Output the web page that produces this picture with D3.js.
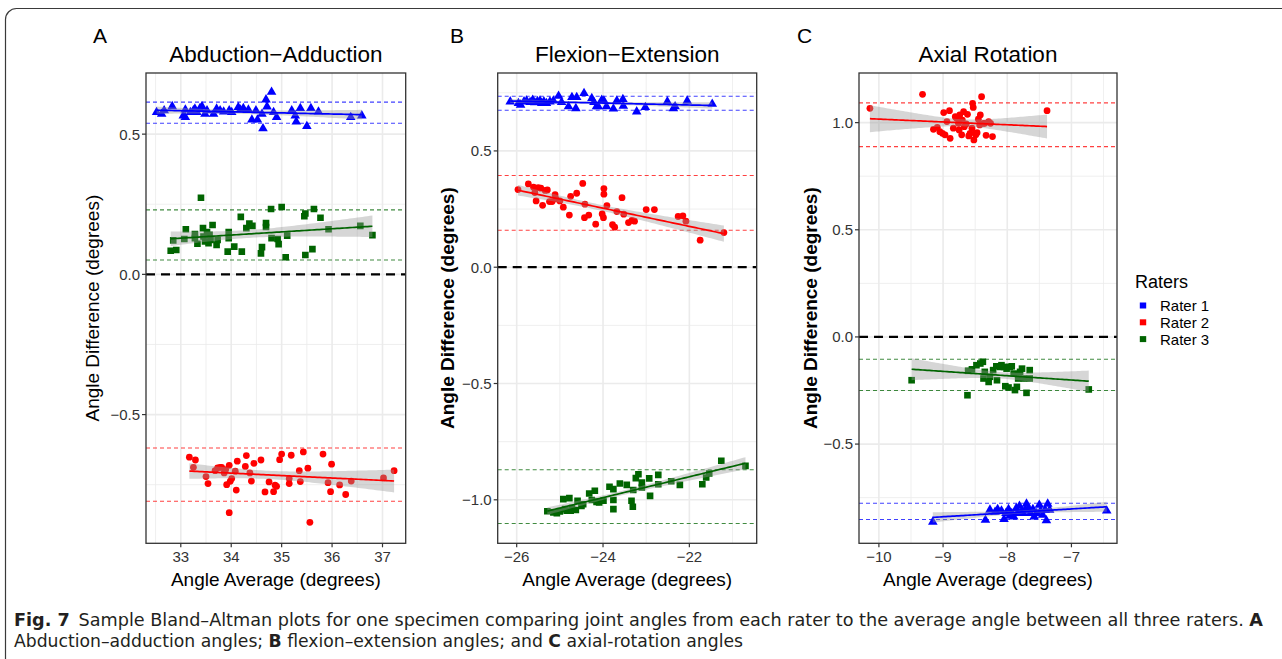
<!DOCTYPE html>
<html>
<head>
<meta charset="utf-8">
<script src="https://cdn.jsdelivr.net/npm/d3@7"></script>
<style>
  body { margin: 0; background: #fff; }
  svg { display: block; font-family: "Liberation Sans", Arial, sans-serif; }
</style>
</head>
<body>
<div id="chart"></div>
<script>
// ---- data ----
var raters = ["Rater 1", "Rater 2", "Rater 3"];

// A: abduction-adduction
var abdR1x = [32.52,32.62,32.67,32.83,33.05,33.09,33.09,33.19,33.25,33.28,33.32,33.38,33.42,33.48,33.52,33.65,33.71,33.78,33.85,33.96,34.01,34.14,34.18,34.24,34.34,34.41,34.49,34.52,34.61,34.63,34.69,34.71,34.80,34.84,34.90,35.20,35.27,35.29,35.37,35.50,35.58,35.73,36.37,36.59];
var abdR1y = [0.578,0.572,0.584,0.599,0.566,0.587,0.560,0.578,0.584,0.590,0.578,0.592,0.599,0.572,0.584,0.572,0.590,0.584,0.580,0.584,0.578,0.596,0.587,0.592,0.587,0.551,0.584,0.551,0.572,0.520,0.623,0.598,0.650,0.578,0.560,0.584,0.566,0.544,0.592,0.528,0.592,0.580,0.560,0.566];
var abdR2x = [33.17,33.25,33.29,33.50,33.54,33.68,33.73,33.78,33.81,33.86,33.89,33.91,33.96,33.96,33.98,34.01,34.08,34.10,34.12,34.28,34.30,34.37,34.40,34.45,34.59,34.67,34.75,34.84,34.87,34.90,34.96,35.00,35.15,35.15,35.19,35.35,35.37,35.43,35.52,35.56,35.82,35.92,35.97,35.99,36.15,36.27,36.38,37.02,37.23];
var abdR2y = [-0.652,-0.688,-0.662,-0.721,-0.746,-0.700,-0.690,-0.688,-0.688,-0.708,-0.696,-0.750,-0.681,-0.850,-0.738,-0.728,-0.702,-0.769,-0.666,-0.685,-0.646,-0.708,-0.737,-0.674,-0.662,-0.776,-0.740,-0.775,-0.752,-0.756,-0.661,-0.641,-0.728,-0.746,-0.645,-0.700,-0.739,-0.633,-0.691,-0.884,-0.641,-0.743,-0.775,-0.677,-0.751,-0.785,-0.737,-0.726,-0.700];
var abdR3x = [32.80,32.91,32.85,33.07,33.10,33.28,33.28,33.33,33.40,33.44,33.45,33.48,33.52,33.55,33.57,33.59,33.63,33.71,33.73,33.93,33.95,33.95,34.06,34.19,34.21,34.30,34.36,34.42,34.59,34.61,34.69,34.69,34.79,34.80,34.92,34.94,35.00,35.08,35.11,35.45,35.47,35.47,35.61,35.64,35.77,35.93,36.56,36.80];
var abdR3y = [0.084,0.087,0.121,0.126,0.161,0.144,0.129,0.109,0.273,0.165,0.135,0.117,0.151,0.111,0.141,0.123,0.176,0.105,0.123,0.081,0.151,0.129,0.099,0.205,0.081,0.165,0.181,0.173,0.075,0.097,0.183,0.169,0.233,0.129,0.126,0.108,0.240,0.061,0.138,0.207,0.069,0.217,0.090,0.233,0.202,0.161,0.173,0.140];
var abdLimits = [[0.539, 0.614], [-0.809, -0.619], [0.051, 0.230]];

// B: flexion-extension
var flxR1x = [-26.15,-25.96,-25.91,-25.83,-25.77,-25.69,-25.63,-25.58,-25.52,-25.46,-25.42,-25.37,-25.31,-25.23,-25.15,-25.03,-24.96,-24.80,-24.72,-24.63,-24.61,-24.44,-24.26,-24.21,-24.15,-24.11,-24.03,-23.98,-23.92,-23.76,-23.68,-23.54,-23.53,-23.22,-23.02,-22.51,-22.37,-22.33,-22.05,-21.47];
var flxR1y = [0.712,0.705,0.698,0.712,0.716,0.709,0.719,0.708,0.713,0.716,0.705,0.712,0.705,0.712,0.716,0.736,0.709,0.691,0.731,0.683,0.731,0.748,0.726,0.709,0.691,0.691,0.719,0.716,0.691,0.681,0.716,0.722,0.693,0.669,0.688,0.712,0.683,0.691,0.715,0.702];
var flxR2x = [-25.97,-25.73,-25.61,-25.58,-25.55,-25.50,-25.44,-25.40,-25.34,-25.29,-25.24,-25.18,-25.11,-25.09,-25.00,-24.92,-24.78,-24.75,-24.61,-24.47,-24.42,-24.43,-24.33,-24.17,-24.02,-23.99,-23.98,-23.98,-23.91,-23.78,-23.73,-23.68,-23.56,-23.52,-23.41,-23.33,-23.27,-23.00,-22.81,-22.26,-22.15,-22.08,-21.75,-21.20];
var flxR2y = [0.334,0.358,0.344,0.321,0.285,0.342,0.340,0.266,0.330,0.332,0.282,0.282,0.312,0.294,0.285,0.258,0.224,0.305,0.318,0.360,0.271,0.213,0.224,0.185,0.229,0.213,0.314,0.338,0.265,0.183,0.172,0.239,0.299,0.228,0.192,0.201,0.198,0.248,0.248,0.218,0.221,0.198,0.116,0.149];
var flxR3x = [-25.29,-25.15,-25.07,-25.00,-24.92,-24.88,-24.84,-24.78,-24.75,-24.72,-24.63,-24.59,-24.50,-24.46,-24.32,-24.26,-24.19,-24.15,-24.09,-23.99,-23.85,-23.76,-23.76,-23.76,-23.61,-23.45,-23.34,-23.31,-23.30,-23.24,-23.18,-23.10,-23.10,-22.93,-22.91,-22.72,-22.72,-22.42,-22.22,-21.70,-21.61,-21.54,-21.26,-20.70];
var flxR3y = [-1.049,-1.054,-1.057,-1.050,-0.997,-1.040,-1.047,-0.993,-1.047,-1.036,-1.044,-1.004,-1.026,-1.019,-0.973,-1.001,-0.961,-1.009,-1.011,-1.004,-0.944,-1.001,-1.040,-0.954,-0.930,-0.936,-1.004,-1.030,-0.958,-0.907,-0.890,-0.926,-0.947,-0.908,-0.983,-0.893,-0.933,-0.920,-0.936,-0.933,-0.904,-0.887,-0.832,-0.854];
var flxLimits = [[0.675, 0.735], [0.159, 0.394], [-1.102, -0.871]];

// C: axial rotation
var axR1x = [-9.16,-8.34,-8.27,-8.19,-8.15,-8.09,-8.05,-8.02,-7.98,-7.96,-7.93,-7.90,-7.86,-7.84,-7.81,-7.77,-7.75,-7.72,-7.70,-7.67,-7.64,-7.60,-7.58,-7.54,-7.50,-7.48,-7.45,-7.41,-7.39,-7.37,-7.34,-6.45];
var axR1y = [-0.863,-0.854,-0.807,-0.817,-0.804,-0.811,-0.851,-0.823,-0.804,-0.835,-0.823,-0.839,-0.800,-0.823,-0.789,-0.811,-0.823,-0.807,-0.779,-0.800,-0.823,-0.804,-0.839,-0.823,-0.784,-0.811,-0.831,-0.807,-0.857,-0.779,-0.807,-0.811];
var axR2x = [-10.14,-9.32,-9.15,-9.09,-9.05,-9.01,-8.99,-8.97,-8.94,-8.90,-8.89,-8.84,-8.81,-8.79,-8.76,-8.75,-8.74,-8.71,-8.70,-8.68,-8.67,-8.64,-8.62,-8.60,-8.58,-8.55,-8.54,-8.53,-8.52,-8.50,-8.49,-8.47,-8.45,-8.43,-8.42,-8.40,-8.37,-8.35,-8.33,-8.29,-8.26,-8.23,-7.38];
var axR2y = [1.067,1.132,0.969,0.978,0.958,0.950,1.047,0.943,1.005,1.056,0.927,0.974,1.028,1.020,0.997,0.966,1.036,0.943,1.012,1.051,0.981,0.994,1.039,0.938,0.950,0.974,1.090,1.071,0.919,0.950,0.943,0.953,1.016,0.989,1.036,1.121,0.997,0.997,0.941,1.005,0.997,0.935,1.056];
var axR3x = [-9.49,-8.62,-8.61,-8.55,-8.48,-8.42,-8.38,-8.37,-8.35,-8.29,-8.27,-8.22,-8.17,-8.16,-8.11,-8.09,-8.05,-8.03,-8.01,-7.98,-7.96,-7.93,-7.90,-7.88,-7.85,-7.83,-7.80,-7.77,-7.74,-7.70,-7.65,-7.65,-6.73];
var axR3y = [-0.202,-0.272,-0.158,-0.151,-0.132,-0.124,-0.116,-0.194,-0.163,-0.210,-0.186,-0.155,-0.137,-0.202,-0.140,-0.132,-0.140,-0.230,-0.148,-0.236,-0.140,-0.137,-0.171,-0.248,-0.233,-0.194,-0.163,-0.148,-0.194,-0.261,-0.194,-0.155,-0.245];
var axLimits = [[-0.852, -0.776], [0.888, 1.092], [-0.250, -0.104]];

var abdXTicks = [33, 34, 35, 36, 37], abdYTicks = [-0.5, 0.0, 0.5];
var flxXTicks = [-26, -24, -22], flxYTicks = [-1.0, -0.5, 0.0, 0.5];
var axXTicks = [-10, -9, -8, -7], axYTicks = [-0.5, 0.0, 0.5, 1.0];

var colors = ["#0000FF", "#FF0000", "#006400"];
var shapes = [d3.symbolTriangle, d3.symbolCircle, d3.symbolSquare];
var sizes = [40, 36, 44];

var width = 1282, height = 659;
var svg = d3.select("#chart").append("svg").attr("width", width).attr("height", height);

// rounded frame
svg.append("rect")
  .attr("x", 5.5).attr("y", 8.5)
  .attr("width", 1300).attr("height", 690)
  .attr("rx", 11)
  .attr("fill", "none").attr("stroke", "#3a3a3a").attr("stroke-width", 1.2);

var panels = [
  {letter: "A", letterX: 93, title: "Abduction\u2212Adduction", left: 146, right: 405.7,
   xDom: [32.31, 37.46], yDom: [-0.959, 0.718], xTicks: abdXTicks, yTicks: abdYTicks,
   xs: [abdR1x, abdR2x, abdR3x], ys: [abdR1y, abdR2y, abdR3y], limits: abdLimits, ylabX: 92, boldY: false},
  {letter: "B", letterX: 450, title: "Flexion\u2212Extension", left: 497.7, right: 756.7,
   xDom: [-26.44, -20.44], yDom: [-1.187, 0.835], xTicks: flxXTicks, yTicks: flxYTicks,
   xs: [flxR1x, flxR2x, flxR3x], ys: [flxR1y, flxR2y, flxR3y], limits: flxLimits, ylabX: 447, boldY: true},
  {letter: "C", letterX: 797, title: "Axial Rotation", left: 859, right: 1117,
   xDom: [-10.31, -6.29], yDom: [-0.963, 1.2316], xTicks: axXTicks, yTicks: axYTicks,
   xs: [axR1x, axR2x, axR3x], ys: [axR1y, axR2y, axR3y], limits: axLimits, ylabX: 810, boldY: true}
];

var plotTop = 73, plotBottom = 543.3;

function minors(ticks, dom) {
  var step = ticks[1] - ticks[0], out = [];
  for (var v = ticks[0] - step / 2; v <= dom[1]; v += step) {
    if (v >= dom[0]) out.push(v);
  }
  return out;
}

function linFit(xs, ys) {
  var n = xs.length;
  var mx = d3.mean(xs), my = d3.mean(ys);
  var sxx = 0, sxy = 0;
  for (var i = 0; i < n; i++) {
    sxx += (xs[i] - mx) * (xs[i] - mx);
    sxy += (xs[i] - mx) * (ys[i] - my);
  }
  var b = sxy / sxx, a = my - b * mx;
  var sse = 0;
  for (var j = 0; j < n; j++) {
    var r = ys[j] - (a + b * xs[j]);
    sse += r * r;
  }
  var s = Math.sqrt(sse / (n - 2));
  var t = 2.01;
  var lo = d3.min(xs), hi = d3.max(xs);
  return d3.range(0, 81).map(function (k) {
    var x = lo + (hi - lo) * k / 80;
    var fit = a + b * x;
    var se = s * Math.sqrt(1 / n + (x - mx) * (x - mx) / sxx);
    return {x: x, y: fit, lo: fit - t * se, hi: fit + t * se};
  });
}

panels.forEach(function (p) {
  var x = d3.scaleLinear().domain(p.xDom).range([p.left, p.right]);
  var y = d3.scaleLinear().domain(p.yDom).range([plotBottom, plotTop]);
  var g = svg.append("g");

  var clip = "clip" + p.letter;
  svg.append("clipPath").attr("id", clip).append("rect")
    .attr("x", p.left).attr("y", plotTop).attr("width", p.right - p.left).attr("height", plotBottom - plotTop);

  // grid
  g.selectAll(".vminor").data(minors(p.xTicks, p.xDom)).enter().append("line")
    .attr("x1", function (d) { return x(d); }).attr("x2", function (d) { return x(d); })
    .attr("y1", plotTop).attr("y2", plotBottom).attr("stroke", "#EBEBEB").attr("stroke-width", 0.8);
  g.selectAll(".hminor").data(minors(p.yTicks, p.yDom)).enter().append("line")
    .attr("y1", function (d) { return y(d); }).attr("y2", function (d) { return y(d); })
    .attr("x1", p.left).attr("x2", p.right).attr("stroke", "#EBEBEB").attr("stroke-width", 0.8);
  g.selectAll(".vmajor").data(p.xTicks).enter().append("line")
    .attr("x1", function (d) { return x(d); }).attr("x2", function (d) { return x(d); })
    .attr("y1", plotTop).attr("y2", plotBottom).attr("stroke", "#EBEBEB").attr("stroke-width", 1.6);
  g.selectAll(".hmajor").data(p.yTicks).enter().append("line")
    .attr("y1", function (d) { return y(d); }).attr("y2", function (d) { return y(d); })
    .attr("x1", p.left).attr("x2", p.right).attr("stroke", "#EBEBEB").attr("stroke-width", 1.6);

  var plot = g.append("g").attr("clip-path", "url(#" + clip + ")");

  // points
  [0, 1, 2].forEach(function (k) {
    var data = p.xs[k].map(function (v, i) { return [v, p.ys[k][i]]; });
    plot.selectAll(".pt" + k).data(data).enter().append("path")
      .attr("d", d3.symbol().type(shapes[k]).size(sizes[k]))
      .attr("transform", function (d) { return "translate(" + x(d[0]) + "," + y(d[1]) + ")"; })
      .attr("fill", colors[k]);
  });

  // zero line
  plot.append("line")
    .attr("x1", p.left).attr("x2", p.right).attr("y1", y(0)).attr("y2", y(0))
    .attr("stroke", "#000").attr("stroke-width", 2.2).attr("stroke-dasharray", "9,6");

  // limits of agreement
  [0, 1, 2].forEach(function (k) {
    plot.selectAll(".loa" + k).data(p.limits[k]).enter().append("line")
      .attr("x1", p.left).attr("x2", p.right)
      .attr("y1", function (d) { return y(d); }).attr("y2", function (d) { return y(d); })
      .attr("stroke", colors[k]).attr("stroke-opacity", 0.75)
      .attr("stroke-width", 1.1).attr("stroke-dasharray", "4,3");
  });

  // linear fits with 95% band
  [0, 1, 2].forEach(function (k) {
    var fit = linFit(p.xs[k], p.ys[k]);
    plot.append("path").datum(fit)
      .attr("d", d3.area().x(function (d) { return x(d.x); })
        .y0(function (d) { return y(d.lo); }).y1(function (d) { return y(d.hi); }))
      .attr("fill", "#999999").attr("fill-opacity", 0.4);
    plot.append("path").datum(fit)
      .attr("d", d3.line().x(function (d) { return x(d.x); }).y(function (d) { return y(d.y); }))
      .attr("fill", "none").attr("stroke", colors[k]).attr("stroke-width", 1.7);
  });

  // border
  g.append("rect").attr("x", p.left).attr("y", plotTop)
    .attr("width", p.right - p.left).attr("height", plotBottom - plotTop)
    .attr("fill", "none").attr("stroke", "#333333").attr("stroke-width", 1.3);

  // axes
  var fmtY = d3.format(".1f"), fmtX = d3.format("d");
  g.selectAll(".ytick").data(p.yTicks).enter().append("line")
    .attr("x1", p.left - 4).attr("x2", p.left)
    .attr("y1", function (d) { return y(d); }).attr("y2", function (d) { return y(d); })
    .attr("stroke", "#333").attr("stroke-width", 1.2);
  g.selectAll(".ylab").data(p.yTicks).enter().append("text")
    .attr("x", p.left - 6).attr("y", function (d) { return y(d); }).attr("dy", "0.36em")
    .attr("text-anchor", "end").style("font-size", "15px").attr("fill", "#333")
    .text(function (d) { return fmtY(d); });
  g.selectAll(".xtick").data(p.xTicks).enter().append("line")
    .attr("y1", plotBottom).attr("y2", plotBottom + 4)
    .attr("x1", function (d) { return x(d); }).attr("x2", function (d) { return x(d); })
    .attr("stroke", "#333").attr("stroke-width", 1.2);
  g.selectAll(".xlab").data(p.xTicks).enter().append("text")
    .attr("y", 562).attr("x", function (d) { return x(d); })
    .attr("text-anchor", "middle").style("font-size", "15px").attr("fill", "#333")
    .text(function (d) { return fmtX(d); });

  // titles
  g.append("text").attr("x", (p.left + p.right) / 2).attr("y", 586)
    .attr("text-anchor", "middle").style("font-size", "19px").text("Angle Average (degrees)");
  g.append("text")
    .attr("transform", "translate(" + p.ylabX + "," + (plotTop + plotBottom) / 2 + ") rotate(-90)")
    .attr("text-anchor", "middle").attr("dy", "0.35em")
    .style("font-size", "19px").style("font-weight", p.boldY ? "bold" : "normal")
    .text("Angle Difference (degrees)");
  g.append("text").attr("x", (p.left + p.right) / 2).attr("y", 62)
    .attr("text-anchor", "middle").style("font-size", "22.5px").text(p.title);
  g.append("text").attr("x", p.letterX).attr("y", 43)
    .style("font-size", "21px").text(p.letter);
});

// legend
var legend = svg.append("g");
legend.append("text").attr("x", 1135).attr("y", 288).style("font-size", "18px").text("Raters");
var item = legend.selectAll(".item").data(raters).enter().append("g")
  .attr("transform", function (d, i) { return "translate(1143," + (305.5 + i * 16.8) + ")"; });
item.append("rect").attr("x", -3.2).attr("y", -3).attr("width", 6.4).attr("height", 6)
  .attr("fill", function (d, i) { return colors[i]; });
item.append("text").attr("x", 17).attr("dy", "0.36em").style("font-size", "15px")
  .text(function (d) { return d; });

// caption
var capFont = "'Liberation Sans Narrow', 'DejaVu Sans Condensed', 'Roboto Condensed', sans-serif";
var cap1 = svg.append("text").attr("x", 14).attr("y", 626)
  .style("font-family", capFont).style("font-size", "17px").attr("fill", "#231f20")
  .attr("textLength", 1249).attr("lengthAdjust", "spacingAndGlyphs");
cap1.append("tspan").style("font-weight", "bold").text("Fig. 7");
cap1.append("tspan").text("\u2002Sample Bland\u2013Altman plots for one specimen comparing joint angles from each rater to the average angle between all three raters. ");
cap1.append("tspan").style("font-weight", "bold").text("A");

var cap2 = svg.append("text").attr("x", 14).attr("y", 647)
  .style("font-family", capFont).style("font-size", "17px").attr("fill", "#231f20")
  .attr("textLength", 729).attr("lengthAdjust", "spacingAndGlyphs");
cap2.append("tspan").text("Abduction\u2013adduction angles; ");
cap2.append("tspan").style("font-weight", "bold").text("B");
cap2.append("tspan").text(" flexion\u2013extension angles; and ");
cap2.append("tspan").style("font-weight", "bold").text("C");
cap2.append("tspan").text(" axial-rotation angles");
</script>
</body>
</html>
